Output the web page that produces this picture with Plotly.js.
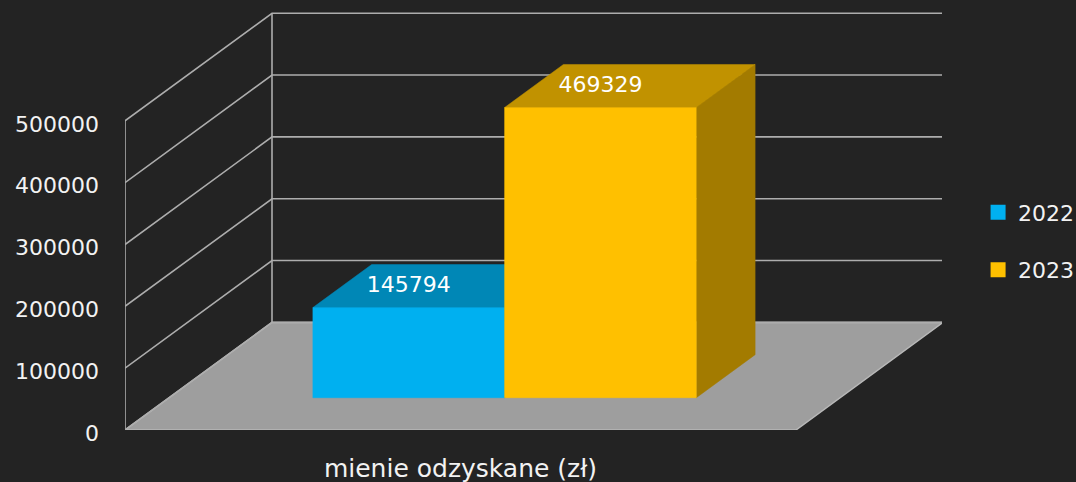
<!DOCTYPE html>
<html>
<head>
<meta charset="utf-8">
<script src="https://cdn.plot.ly/plotly-3.0.1.min.js"></script>
<style>html,body{margin:0;padding:0;background:#232323;}#chart{width:1076px;height:482px;}</style>
</head>
<body>
<div id="chart"></div>
<script>
// ---- data ----
const categories = ['mienie odzyskane (zł)'];
const seriesNames = ['2022', '2023'];
const values2022 = [145794];
const values2023 = [469329];
const yTickVals = [0, 100000, 200000, 300000, 400000, 500000];
const yTickText = ['0', '100000', '200000', '300000', '400000', '500000'];

// ---- styling / geometry (oblique 3D projection) ----
const frontColors = ['#00b0f0', '#ffc000'];
const topColors = ['#0087b6', '#c19200'];
const sideColors = ['#00729b', '#a37b00'];
const W = 671;          // floor width in x units
const DX = 147;         // depth offset in x units
const D = 174000;       // depth offset in value units
const F0 = 0.3, F1 = 0.7; // bar depth span
const GAP = 1.5;        // gap width (fraction of a bar)
const AXMAX = 500000;
const lineColor = '#adadad';
const FONT = '"DejaVu Sans", sans-serif';
const FS = 22;

function P(x, v, f) { return [x + f * DX, v + f * D]; }
function poly(pts) { const c = pts.concat([pts[0]]); return {x: c.map(p => p[0]), y: c.map(p => p[1])}; }

const traces = [];
// floor
const floor = poly([P(0, 0, 0), P(W, 0, 0), P(W, 0, 1), P(0, 0, 1)]);
traces.push({type: 'scatter', mode: 'lines', x: floor.x, y: floor.y, fill: 'toself', fillcolor: '#9e9e9e',
  line: {color: '#b8b8b8', width: 1.5}, showlegend: false, hoverinfo: 'skip', cliponaxis: false});

// walls and gridlines
yTickVals.forEach(v => {
  const a = P(0, v, 0), b = P(0, v, 1), c = P(W, v, 1);
  traces.push({type: 'scatter', mode: 'lines', x: [a[0], b[0], c[0]], y: [a[1], b[1], c[1]],
    line: {color: lineColor, width: 1.6}, showlegend: false, hoverinfo: 'skip', cliponaxis: false});
});
[[P(0, 0, 0), P(0, AXMAX, 0)], [P(0, 0, 1), P(0, AXMAX, 1)], [P(W, 0, 1), P(W, AXMAX, 1)]].forEach(seg => {
  traces.push({type: 'scatter', mode: 'lines', x: [seg[0][0], seg[1][0]], y: [seg[0][1], seg[1][1]],
    line: {color: lineColor, width: 1.6}, showlegend: false, hoverinfo: 'skip', cliponaxis: false});
});

// bars
const series = [values2022, values2023];
const bw = W / (series.length + GAP);
const labelX = [], labelY = [], labelT = [];
series.forEach((vals, s) => {
  vals.forEach((v, ci) => {
    const l = ci * W + (GAP / 2) * bw + s * bw, r = l + bw;
    const side = poly([P(r, 0, F0), P(r, 0, F1), P(r, v, F1), P(r, v, F0)]);
    const top = poly([P(l, v, F0), P(r, v, F0), P(r, v, F1), P(l, v, F1)]);
    const front = poly([P(l, 0, F0), P(r, 0, F0), P(r, v, F0), P(l, v, F0)]);
    [[side, sideColors[s]], [top, topColors[s]], [front, frontColors[s]]].forEach(([pg, col]) => {
      traces.push({type: 'scatter', mode: 'lines', x: pg.x, y: pg.y, fill: 'toself', fillcolor: col,
        line: {color: col, width: 0.5}, showlegend: false, hoverinfo: 'skip', cliponaxis: false});
    });
    const c = P((l + r) / 2, v, F0);
    labelX.push(c[0]); labelY.push(v + D * (F0 + F1) / 2); labelT.push(String(v));
  });
});
traces.push({type: 'scatter', mode: 'text', x: labelX, y: labelY, text: labelT,
  textfont: {family: FONT, size: FS, color: '#ffffff'}, textposition: 'middle center',
  showlegend: false, hoverinfo: 'skip', cliponaxis: false});

// legend entries
seriesNames.forEach((n, s) => {
  traces.push({type: 'scatter', mode: 'markers', x: [null], y: [null], name: n, legendgroup: n,
    marker: {symbol: 'square', size: 15, color: frontColors[s]}, showlegend: true});
});

const layout = {
  width: 1076, height: 482,
  margin: {l: 125, r: 134, t: 12, b: 52, autoexpand: false},
  paper_bgcolor: '#232323', plot_bgcolor: '#232323',
  font: {family: FONT, size: FS, color: '#f2f2f2'},
  showlegend: true,
  legend: {xref: 'container', yref: 'container', x: 0.909, xanchor: 'left', y: 0.603, yanchor: 'top',
    bgcolor: 'rgba(0,0,0,0)', font: {family: FONT, size: FS, color: '#f2f2f2'},
    tracegroupgap: 26, itemwidth: 30},
  xaxis: {range: [0, W + DX - 1], showgrid: false, zeroline: false, showline: false, ticks: '',
    tickvals: categories.map((c, i) => i * W + W / 2), ticktext: categories, ticklabelstandoff: 21,
    tickfont: {family: FONT, size: 25, color: '#f2f2f2'}, fixedrange: true, automargin: false},
  yaxis: {range: [0, 676000], showgrid: false, zeroline: false, showline: false, ticks: '',
    tickvals: yTickVals, ticktext: yTickText, ticklabelstandoff: 25, ticklabelshift: 3,
    tickfont: {family: FONT, size: FS, color: '#f2f2f2'}, fixedrange: true, automargin: false}
};

Plotly.newPlot('chart', traces, layout, {displayModeBar: false, staticPlot: true});
</script>
</body>
</html>
